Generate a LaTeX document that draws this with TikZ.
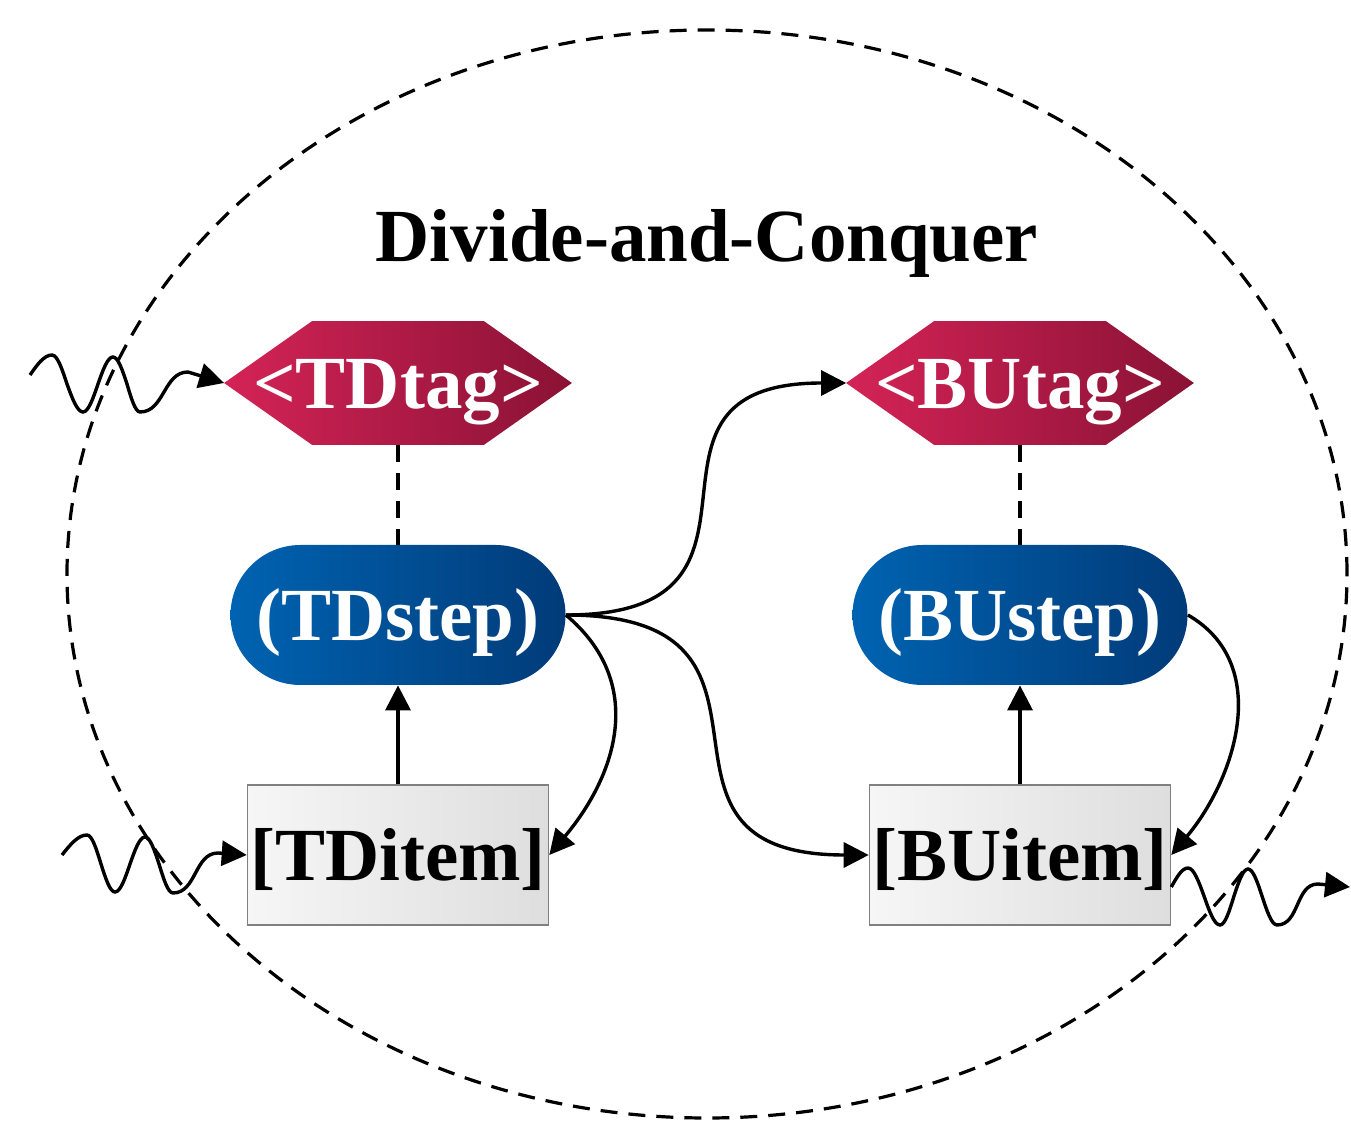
\documentclass[tikz,border=0pt]{standalone}
\usepackage{fontspec}
\setmainfont{Liberation Serif}
\usetikzlibrary{arrows.meta,backgrounds,calc}

\definecolor{tagL}{RGB}{212,35,87}
\definecolor{tagR}{RGB}{138,18,53}
\definecolor{stepL}{RGB}{0,99,177}
\definecolor{stepR}{RGB}{1,59,121}
\definecolor{itemL}{RGB}{246,246,246}
\definecolor{itemR}{RGB}{222,222,222}
\definecolor{itemB}{RGB}{128,128,128}

\begin{document}
\begin{tikzpicture}[x=0.5pt,y=0.5pt,
  labelfont/.style={font=\bfseries\fontsize{37.5}{40}\selectfont,
    text height=30pt, text depth=4.5pt},
  tagnode/.style={labelfont, text=white, minimum width=173.5pt,
    minimum height=61.5pt, inner sep=0pt},
  stepnode/.style={labelfont, text=white, rectangle, rounded corners=35pt,
    minimum width=167.5pt, minimum height=70pt, inner sep=0pt,
    left color=stepL, right color=stepR},
  itemnode/.style={labelfont, rectangle, minimum width=150.5pt,
    minimum height=70pt, inner sep=0pt, left color=itemL,
    right color=itemR, draw=itemB, line width=0.8pt},
  link/.style={line width=1.7pt, -{Triangle[length=12.5pt,width=12.5pt]}},
  tie/.style={line width=1.6pt, dash pattern=on 8.5pt off 5.5pt},
]
\useasboundingbox (0,0) rectangle (1351,-1122);

% enclosing dashed boundary
\draw[tie] (707,-574) ellipse [x radius=320pt, y radius=272pt];

% title
\node[font=\bfseries\fontsize{37.5}{40}\selectfont, text height=28pt,
  text depth=4pt, inner sep=0pt] (title) at (707,-238) {Divide-and-Conquer};

% nodes
\node[tagnode] (TDtag) at (398,-383) {<TDtag>};
\node[tagnode] (BUtag) at (1020,-383) {<BUtag>};
\node[stepnode] (TDstep) at (398,-615) {(TDstep)};
\node[stepnode] (BUstep) at (1020,-615) {(BUstep)};
\node[itemnode] (TDitem) at (398,-855) {[TDitem]};
\node[itemnode] (BUitem) at (1020,-855) {[BUitem]};

% white canvas and hexagonal tag backgrounds
\begin{scope}[on background layer]
  \fill[white] (0,0) rectangle (1351,-1122);
  \foreach \n in {TDtag,BUtag}
    \shade[left color=tagL, right color=tagR]
      (\n.west) -- ([xshift=44pt]\n.north west) -- ([xshift=-44pt]\n.north east)
      -- (\n.east) -- ([xshift=-44pt]\n.south east) -- ([xshift=44pt]\n.south west)
      -- cycle;
\end{scope}

% free ends of the wavy connectors
\coordinate (tagIn) at (30,-375);
\coordinate (itemIn) at (62,-855);
\coordinate (itemOut) at (1350,-887);

% tag -- step ties
\draw[tie] (TDtag.south) -- (TDstep.north);
\draw[tie] (BUtag.south) -- (BUstep.north);

% item -> step
\draw[link] (TDitem.north) -- (TDstep.south);
\draw[link] (BUitem.north) -- (BUstep.south);

% curved connectors
\draw[link] (TDstep.east) to[out=0, in=180, looseness=1.7] (BUtag.west);
\draw[link] (TDstep.east) to[out=0, in=180, looseness=1.7] (BUitem.west);
\draw[link] (TDstep.east) to[out=-40, in=50, looseness=1.12] (TDitem.east);
\draw[link] (BUstep.east) to[out=-30, in=50, looseness=1.05] (BUitem.east);

% wavy inputs and output
\draw[link] (tagIn) sin (52,-355) cos (67,-384) sin (83,-412) cos (98,-384)
  sin (113,-357) cos (127,-384) sin (140,-412)
  to[out=0, in=180] (188,-372) -- (TDtag.west);
\draw[link] (itemIn) sin (87,-835) cos (101,-864) sin (115,-892) cos (130,-864)
  sin (145,-837) cos (159,-864) sin (173,-893)
  to[out=0, in=180] (218,-853) -- (TDitem.west);
\draw[link] ([yshift=-16pt]BUitem.east) sin (1188,-868) cos (1204,-896)
  sin (1220,-925) cos (1234,-896) sin (1248,-869) cos (1262,-896)
  sin (1277,-925) to[out=0, in=180] (1318,-884) -- (itemOut);
\end{tikzpicture}
\end{document}
